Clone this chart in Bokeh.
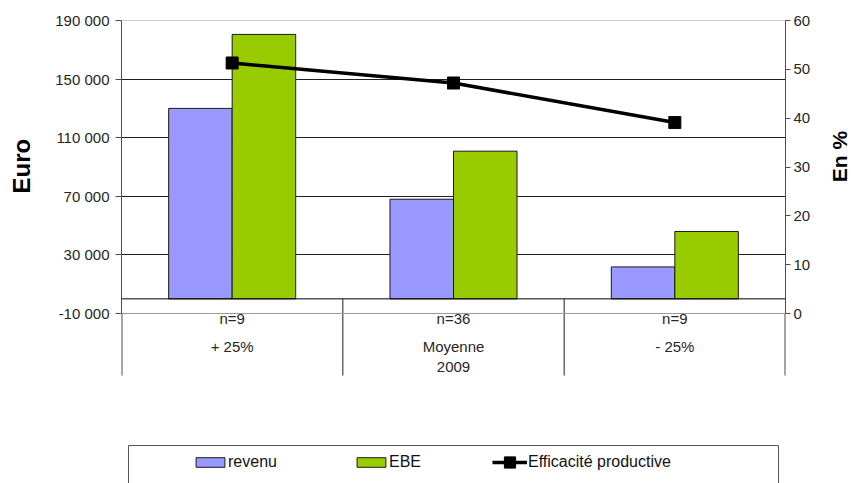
import math
from bokeh.plotting import figure
from bokeh.layouts import row
from bokeh.models import (Range1d, LinearAxis, FixedTicker, Span, Legend, LegendItem,
                          ColumnDataSource, Grid)
from bokeh.core.properties import value
from bokeh.transform import dodge
from bokeh.embed import file_html
from bokeh.resources import INLINE

# ---------------- data ----------------
categories = ["+ 25%", "Moyenne\n2009", "- 25%"]
group_n = ["n=9", "n=36", "n=9"]
revenu = [130000, 68000, 21800]
ebe = [180500, 100800, 46000]
efficacite = [51.3, 47.2, 39.1]
euro_ticks = [-10000, 30000, 70000, 110000, 150000, 190000]
euro_tick_labels = ["-10 000", "30 000", "70 000", "110 000", "150 000", "190 000"]
pct_ticks = [0, 10, 20, 30, 40, 50, 60]
pct_tick_labels = ["0", "10", "20", "30", "40", "50", "60"]
series_names = ["revenu", "EBE", "Efficacité productive"]
axis_titles = ["Euro", "En %"]

# ---------------- layout (pixels) ----------------
TOTAL_W, FIG_H = 851, 483
SIDE_L, SIDE_R = 34, 26                     # narrow figures holding the axis titles
FIG_W = TOTAL_W - SIDE_L - SIDE_R
FRAME_LEFT_ABS, FRAME_RIGHT_ABS = 121, 785
BORDER_L = FRAME_LEFT_ABS - SIDE_L
BORDER_R = SIDE_L + FIG_W - FRAME_RIGHT_ABS
BORDER_T, BORDER_B = 20, 0
FRAME_W = FIG_W - BORDER_L - BORDER_R
FRAME_H = FIG_H - BORDER_T - BORDER_B
AXIS_PX = 293          # distance between first and last euro tick
CAT_PX = 355           # frame top -> bottom of category table
LEG_TOP_PX = 425       # frame top -> legend box top
LEG_LEFT_PX, LEG_RIGHT_PX = 7, 657
FONT = "Liberation Sans"
TXT = "#262626"

n = len(categories)
y_hi = euro_ticks[-1]
y_lo = euro_ticks[0]
per_px = (y_hi - y_lo) / AXIS_PX
y_start = y_hi - FRAME_H * per_px
cat_bottom = y_hi - CAT_PX * per_px
leg_top = y_hi - LEG_TOP_PX * per_px

pct_per_euro = (pct_ticks[-1] - pct_ticks[0]) / (y_hi - y_lo)
def to_pct(v):
    return pct_ticks[0] + (v - y_lo) * pct_per_euro

centers = [i + 0.5 for i in range(n)]
BAR_W = 0.287

p = figure(width=FIG_W, height=FIG_H, x_range=Range1d(0, n), y_range=Range1d(y_start, y_hi),
           output_backend="svg", toolbar_location=None,
           x_axis_location=None, y_axis_location=None,
           min_border_left=BORDER_L, min_border_right=BORDER_R,
           min_border_top=BORDER_T, min_border_bottom=BORDER_B)
p.grid.visible = False
p.outline_line_color = None
p.background_fill_color = "white"
p.extra_y_ranges = {"pct": Range1d(to_pct(y_start), pct_ticks[-1])}

# grid lines
p.add_layout(Grid(dimension=1, ticker=FixedTicker(ticks=euro_ticks[1:-1]),
                  grid_line_color="#1f1f1f", grid_line_width=1))
for loc in (euro_ticks[0], euro_ticks[-1]):
    p.add_layout(Span(location=loc, dimension="width", line_color="#9a9a9a", line_width=1))

src = ColumnDataSource(dict(x=centers, revenu=revenu, ebe=ebe, eff=efficacite,
                            n=group_n, cat=categories, zero=[0] * n))

r_rev = p.vbar(x=dodge("x", -BAR_W / 2), top="revenu", bottom=0, width=BAR_W, source=src,
               fill_color="#9999FF", line_color="#1a1a1a", line_width=1)
r_ebe = p.vbar(x=dodge("x", BAR_W / 2), top="ebe", bottom=0, width=BAR_W, source=src,
               fill_color="#99CC00", line_color="#1a1a1a", line_width=1)

# zero line
p.add_layout(Span(location=0, dimension="width", line_color="#000000", line_width=1))

# category table separators
p.segment(x0=list(range(1, n)), y0=[0] * (n - 1), x1=list(range(1, n)), y1=[cat_bottom] * (n - 1),
          line_color="#1f1f1f", line_width=1)
p.segment(x0=[0, n], y0=[y_lo, y_lo], x1=[0, n], y1=[cat_bottom, cat_bottom],
          line_color="#4d4d4d", line_width=2)

# category labels
p.text(x="x", y="zero", text="n", source=src, y_offset=20, text_align="center",
       text_baseline="middle", text_font=value(FONT), text_font_size="15px", text_color=TXT)
p.text(x="x", y="zero", text="cat", source=src, y_offset=39, text_align="center",
       text_baseline="top", text_font=value(FONT), text_font_size="15px", text_color=TXT,
       text_line_height=1.2)

# line
r_line = p.line(x="x", y="eff", source=src, y_range_name="pct", line_color="black", line_width=3.5)
r_pts = p.scatter(x="x", y="eff", source=src, y_range_name="pct", marker="square", size=12,
                  fill_color="black", line_color="black")

# axes
left = LinearAxis(ticker=FixedTicker(ticks=euro_ticks), bounds=(y_lo, y_hi),
                  major_label_overrides={t: l for t, l in zip(euro_ticks, euro_tick_labels)})
right = LinearAxis(y_range_name="pct", ticker=FixedTicker(ticks=pct_ticks),
                   bounds=(pct_ticks[0], pct_ticks[-1]),
                   major_label_overrides={t: l for t, l in zip(pct_ticks, pct_tick_labels)})
for ax, so, tout in ((left, 6, 6), (right, 3, 5)):
    ax.axis_line_color = "#4d4d4d"
    ax.major_tick_line_color = "#4d4d4d"
    ax.major_tick_in = 0
    ax.major_tick_out = tout
    ax.minor_tick_line_color = None
    ax.major_label_standoff = so
    ax.major_label_text_font = FONT
    ax.major_label_text_font_size = "15px"
    ax.major_label_text_color = TXT
p.add_layout(left, "left")
p.add_layout(right, "right")

# legend box
p.quad(left=[LEG_LEFT_PX / FRAME_W * n], right=[LEG_RIGHT_PX / FRAME_W * n],
       top=[leg_top], bottom=[y_start - 50000], fill_alpha=0, line_color="#555555", line_width=1)

# legends (one per entry, placed individually)
LEG_CY = 462
entries = [
    (series_names[0], [r_rev], 192, 36, 12, 0),
    (series_names[1], [r_ebe], 353, 36, 12, 0),
    (series_names[2], [r_line, r_pts], 492, 35, 28, 1),
]
for label, rends, gx, gw, gh, so in entries:
    h = max(gh, 20)
    lg = Legend(items=[LegendItem(label=label, renderers=rends)],
                location=(gx - FRAME_LEFT_ABS, FIG_H - (LEG_CY + h / 2)),
                orientation="horizontal", border_line_color=None,
                background_fill_alpha=0, padding=0, margin=0, spacing=0,
                glyph_width=gw, glyph_height=gh, label_height=20, label_standoff=so,
                label_text_font=FONT, label_text_font_size="16px", label_text_color="#111111")
    p.add_layout(lg)


# axis titles: narrow side figures (screen-like coordinates: x right, y down)
def side_title(width, title, cx, cy, size):
    f = figure(width=width, height=FIG_H, x_range=Range1d(0, width), y_range=Range1d(FIG_H, 0),
               output_backend="svg", toolbar_location=None,
               x_axis_location=None, y_axis_location=None,
               min_border=0, min_border_left=0, min_border_right=0,
               min_border_top=0, min_border_bottom=0)
    f.grid.visible = False
    f.outline_line_color = None
    f.text(x=[cx], y=[cy], text=[title], angle=math.pi / 2, text_align="center",
           text_baseline="middle", text_font=value(FONT), text_font_size=size,
           text_font_style="bold", text_color="#000000")
    return f


left_title = side_title(SIDE_L, axis_titles[0], 20.5, 152, "24px")
right_title = side_title(SIDE_R, axis_titles[1], 838.5 - SIDE_L - FIG_W, 142, "21px")

layout = row(left_title, p, right_title, spacing=0)
open("out.html", "w").write(file_html(layout, INLINE))
